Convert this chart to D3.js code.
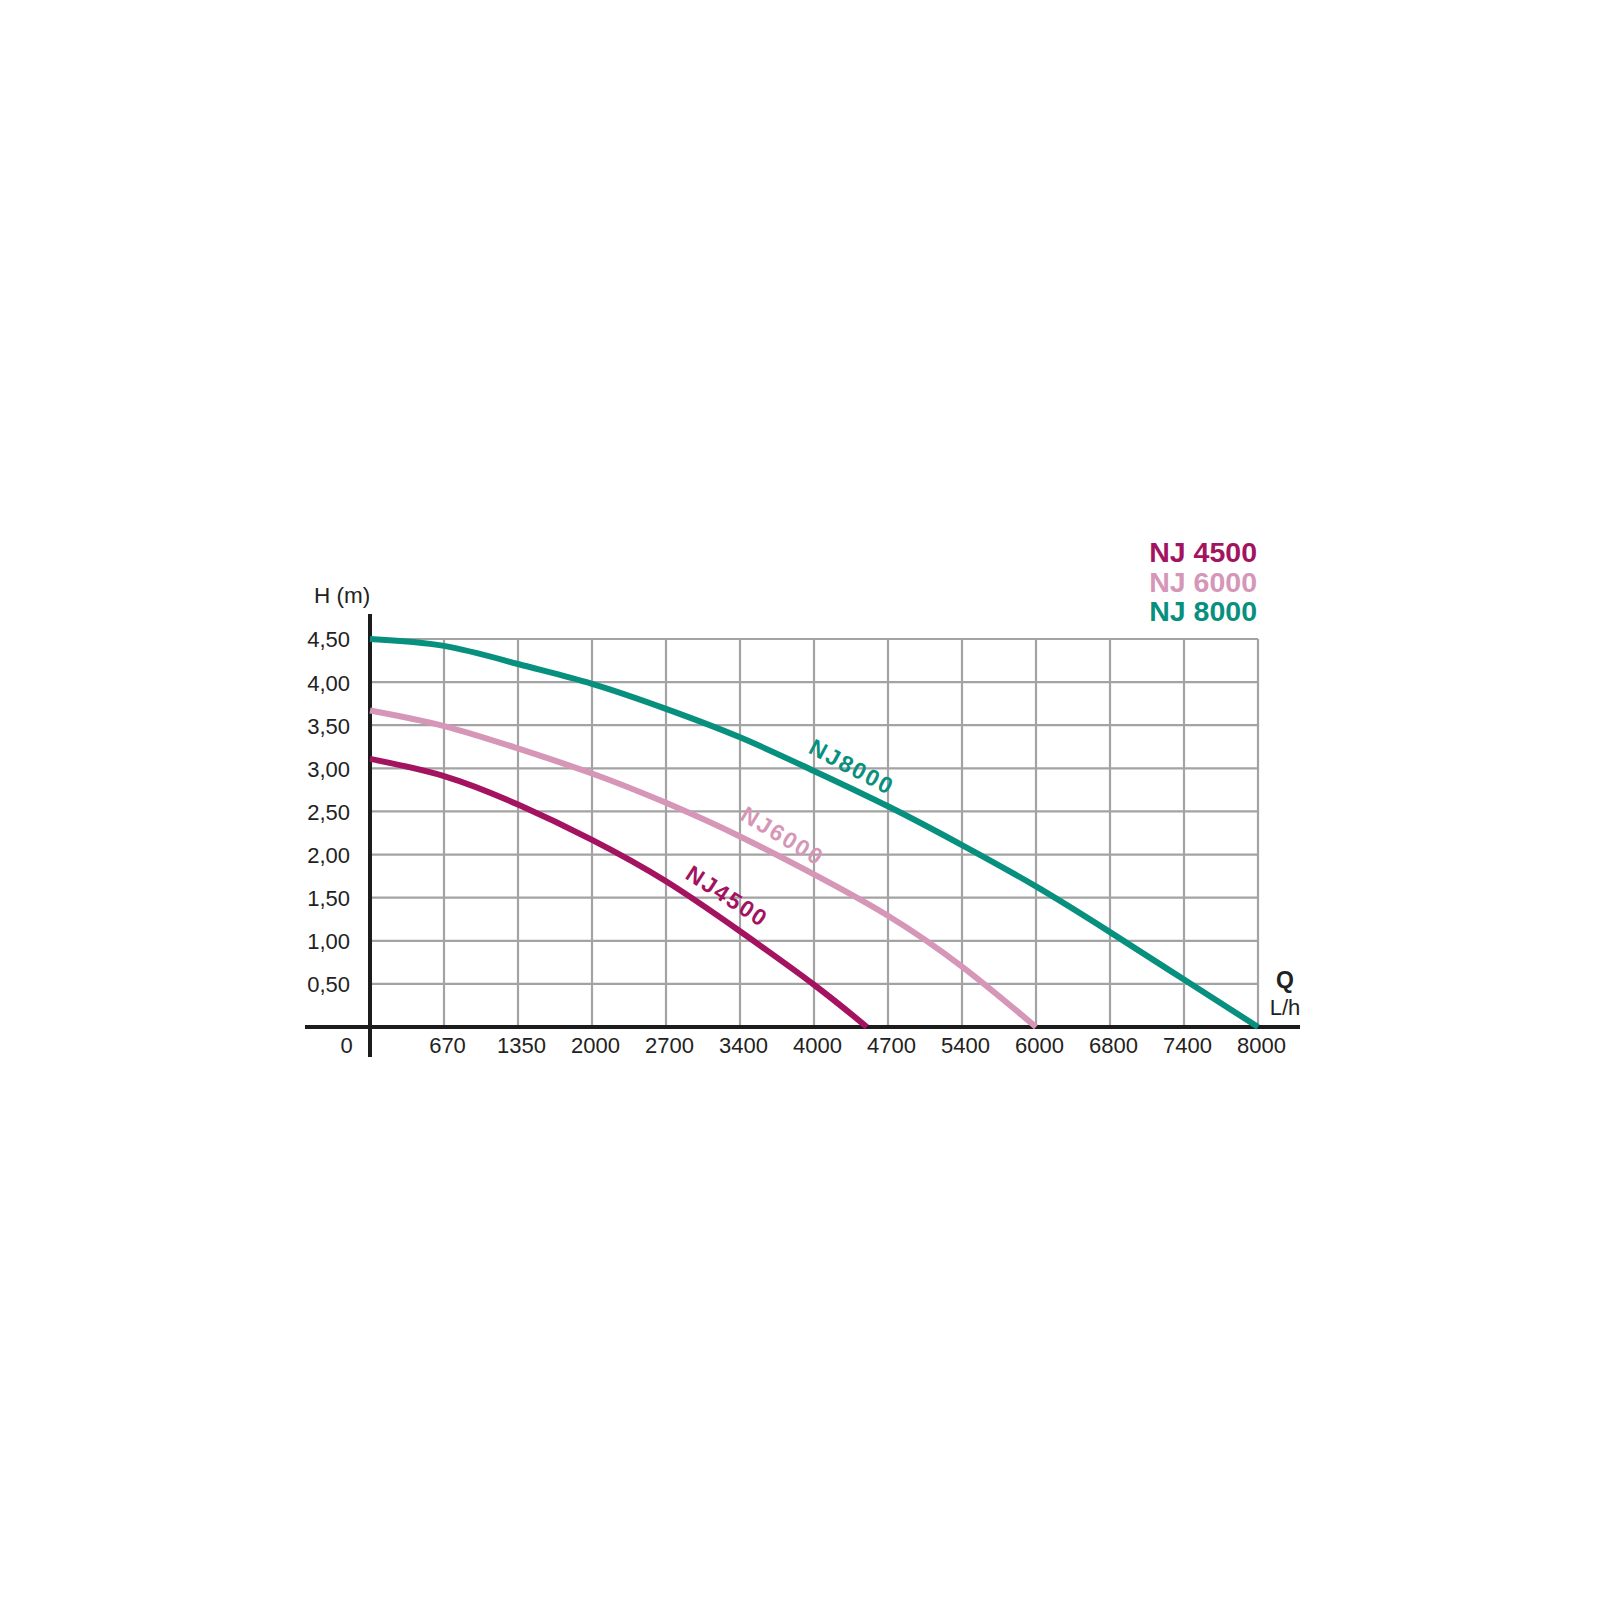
<!DOCTYPE html>
<html>
<head>
<meta charset="utf-8">
<script src="https://cdn.jsdelivr.net/npm/d3@7"></script>
<style>
  html, body { margin: 0; padding: 0; background: #ffffff; }
  svg { display: block; }
  text { font-family: "Liberation Sans", Arial, Helvetica, sans-serif; }
</style>
</head>
<body>
<svg id="chart" width="1600" height="1600"></svg>
<script>
// ---- data ----
const flowTicks = [0, 670, 1350, 2000, 2700, 3400, 4000, 4700, 5400, 6000, 6800, 7400, 8000];
const headTicks = [0.5, 1.0, 1.5, 2.0, 2.5, 3.0, 3.5, 4.0, 4.5];

const flowNJ4500 = [0, 670, 1350, 2000, 2700, 3400, 4000, 4500];
const headNJ4500 = [3.11, 2.91, 2.58, 2.17, 1.69, 1.11, 0.49, 0];

const flowNJ6000 = [0, 670, 1350, 2000, 2700, 3400, 4000, 4700, 5400, 6000];
const headNJ6000 = [3.67, 3.49, 3.23, 2.94, 2.60, 2.21, 1.77, 1.29, 0.70, 0];

const flowNJ8000 = [0, 670, 1350, 2000, 2700, 3400, 4000, 4700, 5400, 6000, 6800, 7400, 8000];
const headNJ8000 = [4.50, 4.42, 4.21, 3.98, 3.69, 3.36, 2.97, 2.56, 2.11, 1.63, 1.10, 0.55, 0];

const seriesNames = ["NJ 4500", "NJ 6000", "NJ 8000"];
const curveLabels = ["NJ4500", "NJ6000", "NJ8000"];
const colors = ["#a3135f", "#d596b7", "#08907f"];

// ---- layout ----
const svg = d3.select("#chart");
const xLeft = 370, step = 74;
const yBottom = 1027, yTop = 639;
const fontTick = 22;

const x = d3.scaleLinear()
  .domain(flowTicks)
  .range(flowTicks.map((d, i) => xLeft + i * step));
const y = d3.scaleLinear().domain([0, 4.5]).range([yBottom, yTop]);
const xRight = x(8000);

// grid
const grid = svg.append("g").attr("stroke", "#a3a3a3").attr("stroke-width", 2.2);
grid.selectAll("line.h").data(headTicks).join("line")
  .attr("x1", xLeft).attr("x2", xRight)
  .attr("y1", d => y(d)).attr("y2", d => y(d));
grid.selectAll("line.v").data(flowTicks.slice(1)).join("line")
  .attr("x1", d => x(d)).attr("x2", d => x(d))
  .attr("y1", y(4.5)).attr("y2", y(0));

// y tick labels via axis
const yAxis = d3.axisLeft(y).tickValues(headTicks)
  .tickSize(0).tickPadding(0)
  .tickFormat(d => d.toFixed(2).replace(".", ","));
const gy = svg.append("g").attr("transform", `translate(350,0)`).call(yAxis);
gy.select(".domain").remove();
gy.selectAll("text").attr("font-size", fontTick).attr("fill", "#222")
  .attr("font-family", "Liberation Sans, Arial, sans-serif")
  .attr("dy", "0.36em");

// x tick labels via axis
const xAxis = d3.axisBottom(x).tickValues(flowTicks.slice(1))
  .tickSize(0).tickPadding(0).tickFormat(d => String(d));
const gx = svg.append("g").attr("transform", `translate(3,1053)`).call(xAxis);
gx.select(".domain").remove();
gx.selectAll("text").attr("font-size", fontTick).attr("fill", "#222")
  .attr("font-family", "Liberation Sans, Arial, sans-serif")
  .attr("dy", 0);

svg.append("text").attr("x", 346.5).attr("y", 1053)
  .attr("text-anchor", "middle").attr("font-size", fontTick).attr("fill", "#222").text("0");

// axes lines
svg.append("line").attr("x1", 305).attr("x2", 1300)
  .attr("y1", yBottom).attr("y2", yBottom)
  .attr("stroke", "#1c1c1c").attr("stroke-width", 4);
svg.append("line").attr("x1", xLeft).attr("x2", xLeft)
  .attr("y1", 614).attr("y2", 1057)
  .attr("stroke", "#1c1c1c").attr("stroke-width", 4);

// axis titles
svg.append("text").attr("x", 314).attr("y", 603)
  .attr("font-size", 22.5).attr("fill", "#222").text("H (m)");
svg.append("text").attr("x", 1285).attr("y", 988).attr("text-anchor", "middle")
  .attr("font-size", 23).attr("font-weight", "bold").attr("fill", "#222").text("Q");
svg.append("text").attr("x", 1285).attr("y", 1015).attr("text-anchor", "middle")
  .attr("font-size", fontTick).attr("fill", "#222").text("L/h");

// curves
const series = [
  { flow: flowNJ4500, head: headNJ4500 },
  { flow: flowNJ6000, head: headNJ6000 },
  { flow: flowNJ8000, head: headNJ8000 }
];
const line = d3.line()
  .x(d => x(d[0])).y(d => y(d[1]))
  .curve(d3.curveNatural);

series.forEach((s, i) => {
  const pts = s.flow.map((f, j) => [f, s.head[j]]);
  svg.append("path").datum(pts)
    .attr("d", line)
    .attr("fill", "none")
    .attr("stroke", colors[i])
    .attr("stroke-width", 6)
    .attr("stroke-linecap", "butt");
});

// in-chart curve labels
const labelAt = [3166, 3662, 4270];
const labelAngle = [33, 31, 28];
const labelOffset = [-14, -12, -12];
series.forEach((s, i) => {
  const interp = d3.scaleLinear().domain(s.flow).range(s.head);
  const q = labelAt[i];
  svg.append("text")
    .attr("transform", `translate(${x(q)},${y(interp(q))}) rotate(${labelAngle[i]})`)
    .attr("x", 0).attr("y", labelOffset[i])
    .attr("text-anchor", "middle")
    .attr("font-size", 23).attr("font-weight", "bold")
    .attr("letter-spacing", 2)
    .attr("fill", colors[i])
    .text(curveLabels[i]);
});

// legend (top right)
svg.append("g").selectAll("text").data(seriesNames).join("text")
  .attr("x", 1257).attr("y", (d, i) => 562 + i * 29.5)
  .attr("text-anchor", "end")
  .attr("font-size", 28.5).attr("font-weight", "bold")
  .attr("fill", (d, i) => colors[i])
  .text(d => d);
</script>
</body>
</html>
